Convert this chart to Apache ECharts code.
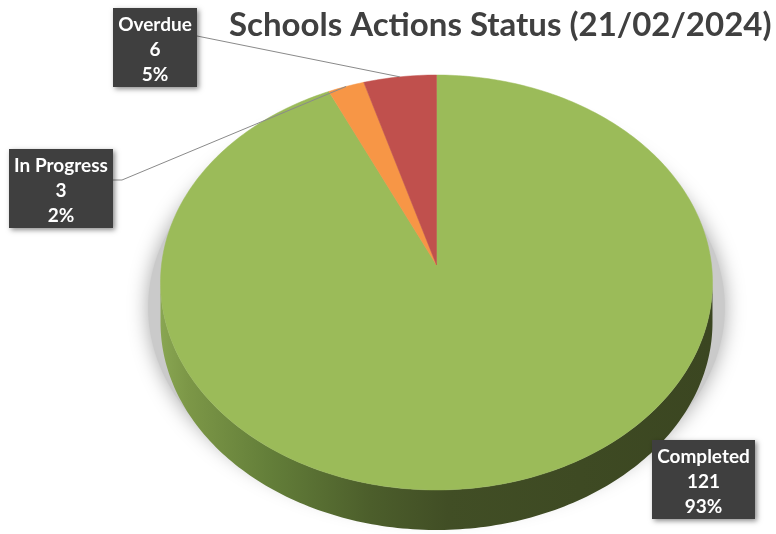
<!DOCTYPE html>
<html><head><meta charset="utf-8">
<script src="https://cdn.jsdelivr.net/npm/echarts@6/dist/echarts.min.js"></script>
<style>html,body{margin:0;padding:0;background:#fff}#c{width:776px;height:534px}</style>
</head><body><div id="c"></div>
<script>
// ---- data ----
const categories = ['Completed', 'In Progress', 'Overdue'];
const values = [121, 3, 6];
const titleText = 'Schools Actions Status (21/02/2024)';

// ---- styles / layout ----
const sliceColors = ['#9BBB59', '#F79646', '#C0504D'];
const CX = 436.5, CY = 265, RXP = 275, RYP = 206, PERSP = 0.0843, DEPTH = 40;
const labelLayout = [
  { x: 652, y: 440, w: 103, h: 79, attach: null },
  { x: 9,   y: 149, w: 104, h: 79, attach: [113, 180], elbow: [122, 180] },
  { x: 113, y: 8,   w: 84,  h: 79, attach: [197, 36],  elbow: null }
];
const LABEL_FONT = 'bold 19px Lato';

function proj(deg, dy) {
  const t = deg * Math.PI / 180;
  const u = Math.sin(t), v = Math.cos(t);
  const s = 1 + PERSP * v;
  return [CX + RXP * u / s, CY - RYP * v / s + (dy || 0)];
}
function arc(a0, a1, dy) {
  const pts = [];
  const n = Math.max(2, Math.ceil(Math.abs(a1 - a0) / 1));
  for (let i = 0; i <= n; i++) pts.push(proj(a0 + (a1 - a0) * i / n, dy));
  return pts;
}
const total = values.reduce((a, b) => a + b, 0);
const starts = [];
(function () { let acc = 0; values.forEach(v => { starts.push(acc / total * 360); acc += v; }); })();
const sideFrom = Math.acos(-PERSP) * 180 / Math.PI;
const sideTo = 360 - sideFrom;

const sideGradient = {
  type: 'linear', x: 160, y: 0, x2: 713, y2: 0, global: true,
  colorStops: [
    { offset: 0, color: '#89a652' }, { offset: 0.05, color: '#7c9747' },
    { offset: 0.2, color: '#637e39' }, { offset: 0.38, color: '#4c5e2b' },
    { offset: 0.52, color: '#414e25' }, { offset: 1, color: '#3b4621' }
  ]
};

function renderItem(params, api) {
  const i = params.dataIndex;
  const val = api.value(0);
  const a0 = starts[i], a1 = a0 + val / total * 360;
  const children = [];
  if (i === 0) {
    // soft shadow of the whole pie
    const sh = arc(0, 360, 25).map(p => [CX + (p[0] - CX) * 1.045, p[1]]);
    children.push({ type: 'polygon', z2: 0, shape: { points: sh },
      style: { fill: '#cacaca', shadowBlur: 20, shadowColor: 'rgba(0,0,0,0.35)' } });
  }
  // side face
  const s0 = Math.max(a0, sideFrom), s1 = Math.min(a1, sideTo);
  if (s1 > s0) {
    const pts = arc(s0, s1, 0).concat(arc(s1, s0, DEPTH));
    children.push({ type: 'polygon', z2: 1, shape: { points: pts },
      style: { fill: i === 0 ? sideGradient : sliceColors[i], stroke: null } });
  }
  // top face
  const top = [[CX, CY]].concat(arc(a0, a1, 0));
  children.push({ type: 'polygon', z2: 2, shape: { points: top },
    style: { fill: sliceColors[i], stroke: sliceColors[i], lineWidth: 0.5 } });
  // label
  const L = labelLayout[i];
  const mid = proj((a0 + a1) / 2, 0);
  if (L.attach) {
    const line = [L.attach];
    if (L.elbow) line.push(L.elbow);
    line.push(mid);
    children.push({ type: 'polyline', z2: 3, shape: { points: line },
      style: { stroke: '#8a8a8a', lineWidth: 1, fill: null } });
  }
  const pct = Math.round(val / total * 100) + '%';
  children.push({ type: 'rect', z2: 4, shape: { x: L.x, y: L.y, width: L.w, height: L.h },
    style: { fill: '#3f3f3f', shadowBlur: 5, shadowOffsetX: 2, shadowOffsetY: 2, shadowColor: 'rgba(0,0,0,0.45)' } });
  children.push({ type: 'text', z2: 5, x: L.x + L.w / 2, y: L.y + L.h / 2 + 2,
    style: { text: categories[i] + '\n' + val + '\n' + pct, fill: '#ffffff', font: LABEL_FONT,
      align: 'center', verticalAlign: 'middle', lineHeight: 25 } });
  return { type: 'group', children: children };
}

const chart = echarts.init(document.getElementById('c'), null, { renderer: 'canvas' });
chart.setOption({
  animation: false,
  backgroundColor: '#ffffff',
  title: {
    text: titleText, left: 224, top: 4,
    textStyle: { fontFamily: 'Lato', fontWeight: 'bold', fontSize: 33, color: '#404040' }
  },
  series: [{
    type: 'custom', coordinateSystem: 'none', renderItem: renderItem,
    data: categories.map((c, k) => ({ name: c, value: [values[k]] }))
  }]
});
</script></body></html>
